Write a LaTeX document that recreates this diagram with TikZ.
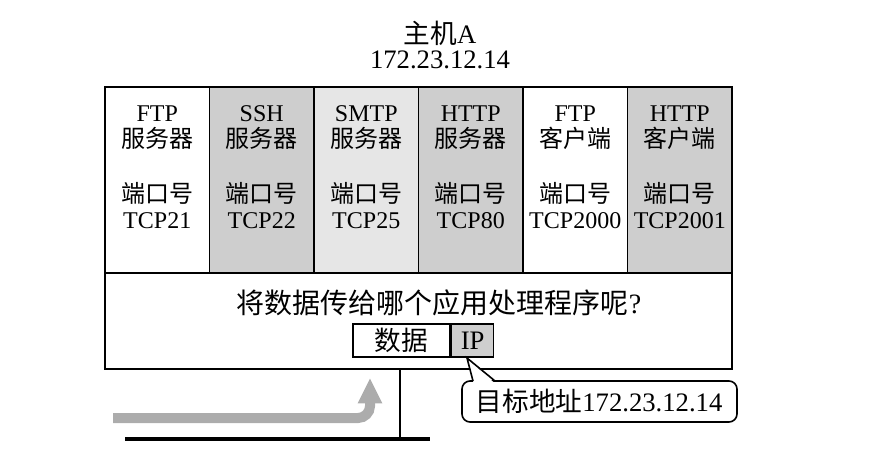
\documentclass[tikz,border=0pt]{standalone}
\usepackage{fontspec}
\setmainfont{Liberation Serif}
\newfontfamily\cjk{Noto Sans CJK SC}
\usetikzlibrary{arrows.meta}
\definecolor{shadeA}{RGB}{206,206,206}
\definecolor{shadeB}{RGB}{230,230,230}
\definecolor{flowgray}{RGB}{172,172,172}
\tikzset{every picture/.style={line width=1.2pt}}
\tikzset{
  label text/.style={inner sep=0pt, align=center, font=\fontsize{18}{19.5}\selectfont},
  big text/.style={inner sep=0pt, font=\fontsize{20}{24}\selectfont},
  field/.style={draw, inner sep=0pt, minimum height=24.75pt, font=\fontsize{20}{24}\selectfont},
  flow/.style={draw=flowgray, line width=7.5pt, rounded corners=9pt, -{Triangle[length=19pt,width=17pt]}},
}

\begin{document}
\begin{tikzpicture}[x=0.75pt,y=0.75pt,yscale=-1,xscale=1]
\useasboundingbox (0,0) rectangle (885,460);

% Text Node
\node[big text] (host) at (440,33) {{\cjk 主机}A};
% Text Node
\node[big text] (hostip) at (440,60) {172.23.12.14};

%Shape: Columns
\foreach \i/\shade/\proto/\role/\port in {1/white/FTP/服务器/21, 2/shadeA/SSH/服务器/22, 3/shadeB/SMTP/服务器/25, 4/shadeA/HTTP/服务器/80, 5/white/FTP/客户端/2000, 6/shadeA/HTTP/客户端/2001}{
  \fill[\shade] ({105+(\i-1)*104.5},87) rectangle ({105+\i*104.5},273);
  \node[label text] (app\i) at ({105+(\i-0.5)*104.5},128) {\proto\\{\cjk \role}};
  \node[label text] (port\i) at ({105+(\i-0.5)*104.5},206) {{\cjk 端口号}\\TCP\port};
}

%Shape: Frame
\draw (105,87) rectangle (732,369);
\draw (105,273) -- (732,273);
\foreach \i in {1,...,5} \draw ({105+\i*104.5},87) -- ({105+\i*104.5},273);

% Text Node
\node[big text, font=\fontsize{21}{24}\selectfont] (ask) at (439,303) {{\cjk 将数据传给哪个应用处理程序呢}?};

%Shape: Packet
\node[field, minimum width=72.75pt] (payload) at (401.5,340.5) {\cjk 数据};
\node[field, minimum width=31.5pt, fill=shadeA, anchor=west] (iphdr) at (payload.east) {IP};

%Shape: Callout
\coordinate (tip) at (467,358);
\draw[fill=white, rounded corners=6pt] (484,381) -- (737,381) -- (737,422) -- (462,422) -- (462,381) -- cycle;
\fill[white] (473.6,383) -- (tip) -- (494.4,383) -- cycle;
\draw (473,381) -- (tip) -- (495,381);
% Text Node
\node[inner sep=0pt, font=\fontsize{20}{24}\selectfont] (dest) at (599,401) {{\cjk 目标地址}172.23.12.14};

%Straight Lines: network
\coordinate (tap) at (400,369);
\coordinate (lanL) at (125,439);
\coordinate (lanR) at (430,439);
\draw (tap) -- (tap |- lanL);
\draw[line width=2.4pt] (lanL) -- (lanR);

%Curve Lines: incoming data
\draw[flow] (113,418) -| (370,378);

\end{tikzpicture}
\end{document}
